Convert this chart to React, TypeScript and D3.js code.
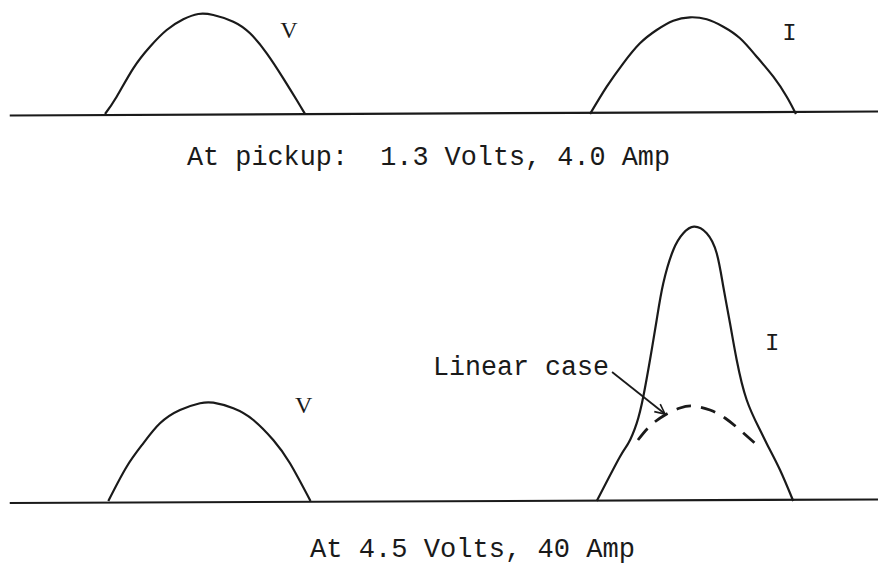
import React from "react";
import * as d3 from "d3";

// Time axis (arbitrary units 0..100 across the sheet), amplitude in relative units.
type Pt = [number, number];

// Top panel: at pickup
const topV: Pt[] = [
  [11.15, 0], [12.49, 17.3], [14.4, 45.7], [16.32, 67.3], [18.24, 84], [20.15, 94.7],
  [21.87, 100], [23.6, 99], [25.9, 92.3], [27.82, 80.7], [29.74, 60.7], [31.64, 35.7],
  [33.18, 14], [34.14, 0],
];
const topI: Pt[] = [
  [66.9, 0], [68.82, 27.3], [70.72, 50.7], [72.64, 70.7], [74.56, 84], [76.47, 93.3],
  [78.39, 96.7], [80.31, 94.7], [82.22, 87.3], [84.14, 75.7], [86.06, 57.3], [87.97, 37.3],
  [89.51, 17.3], [90.57, 0],
];

// Bottom panel: at 4.5 V, 40 A
const botV: Pt[] = [
  [11.53, 0], [13.64, 34.3], [15.55, 57.7], [17.47, 77.7], [19.77, 91], [22.07, 97.7],
  [23.6, 98.3], [25.9, 92.7], [28.2, 81], [30.49, 61], [32.41, 37.7], [34.77, 0],
];
const botI: Pt[] = [
  [67.67, 0], [70.34, 44.3], [71.3, 57.7], [72.26, 77.7], [73.02, 104.3], [73.79, 141],
  [74.56, 181], [75.32, 217.7], [76.47, 251], [77.62, 267.7], [78.85, 274.3], [80.31, 267.7],
  [81.46, 247.7], [82.22, 214.3], [82.99, 177.7], [83.76, 141], [84.91, 101], [86.44, 71],
  [87.39, 54.3], [88.74, 31], [90.26, 0],
];
const botLinear: Pt[] = [
  [72.41, 61], [73.79, 75], [75.52, 86], [77.24, 93], [78.74, 95], [80.69, 91],
  [82.41, 83], [84.14, 71], [86.09, 56],
];
const arrowPts: Pt[] = [[69.43, 129], [75.52, 87]];

const captions = ["At pickup:  1.3 Volts, 4.0 Amp", "At 4.5 Volts, 40 Amp"];
const curveLabels = ["V", "I", "V", "I"];
const annotation = "Linear case";

const W = 878;
const H = 566;

export default function App() {
  const x = d3.scaleLinear().domain([0, 100]).range([8, 878]);
  const yTop = d3.scaleLinear().domain([0, 100]).range([114, 14]);
  const yBot = d3.scaleLinear().domain([0, 100]).range([501, 401]);

  const lineTop = d3.line<Pt>().x((d) => x(d[0])).y((d) => yTop(d[1])).curve(d3.curveNatural);
  const lineBot = d3.line<Pt>().x((d) => x(d[0])).y((d) => yBot(d[1])).curve(d3.curveNatural);

  const ink = "#1a1a1a";
  const sw = 2.2;

  // arrow geometry
  const ax0 = x(arrowPts[0][0]);
  const ay0 = yBot(arrowPts[0][1]);
  const ax1 = x(arrowPts[1][0]);
  const ay1 = yBot(arrowPts[1][1]);
  const ang = Math.atan2(ay1 - ay0, ax1 - ax0);
  const headLen = 11;
  const headAng = 0.45;
  const h1: Pt = [ax1 - headLen * Math.cos(ang - headAng), ay1 - headLen * Math.sin(ang - headAng)];
  const h2: Pt = [ax1 - headLen * Math.cos(ang + headAng), ay1 - headLen * Math.sin(ang + headAng)];

  const mono = "'Liberation Mono', 'DejaVu Sans Mono', monospace";
  const serif = "'Liberation Serif', 'DejaVu Serif', serif";

  return (
    <svg
      width={W}
      height={H}
      viewBox={`0 0 ${W} ${H}`}
      style={{ position: "absolute", left: 0, top: 0, background: "#fff" }}
    >
      <rect x={0} y={0} width={W} height={H} fill="#fff" />
      {/* baselines */}
      <line x1={x(0.2)} x2={x(100)} y1={yTop(-1.5)} y2={yTop(2.5)} stroke={ink} strokeWidth={2.2} />
      <line x1={x(0.2)} x2={x(100)} y1={yBot(-2)} y2={yBot(1.5)} stroke={ink} strokeWidth={2.2} />

      {/* top panel curves */}
      <path d={lineTop(topV) ?? ""} fill="none" stroke={ink} strokeWidth={sw} />
      <path d={lineTop(topI) ?? ""} fill="none" stroke={ink} strokeWidth={sw} />

      {/* bottom panel curves */}
      <path d={lineBot(botV) ?? ""} fill="none" stroke={ink} strokeWidth={sw} />
      <path d={lineBot(botI) ?? ""} fill="none" stroke={ink} strokeWidth={sw} />
      <path d={lineBot(botLinear) ?? ""} fill="none" stroke={ink} strokeWidth={2.8} strokeDasharray="15 10" />

      {/* arrow */}
      <line x1={ax0} y1={ay0} x2={ax1} y2={ay1} stroke={ink} strokeWidth={1.8} />
      <polyline points={`${h1[0]},${h1[1]} ${ax1},${ay1} ${h2[0]},${h2[1]}`} fill="none" stroke={ink} strokeWidth={1.6} />

      {/* curve labels */}
      <text x={x(31.3)} y={yTop(76)} fontFamily={serif} fontSize={24} fill={ink}>{curveLabels[0]}</text>
      <text x={x(89.0)} y={yTop(74)} fontFamily={mono} fontSize={24} fill={ink}>{curveLabels[1]}</text>
      <text x={x(33)} y={yBot(88)} fontFamily={serif} fontSize={24} fill={ink}>{curveLabels[2]}</text>
      <text x={x(87.0)} y={yBot(151)} fontFamily={mono} fontSize={24} fill={ink}>{curveLabels[3]}</text>

      {/* annotation */}
      <text x={433} y={375} fontFamily={mono} fontSize={27} fill={ink} textLength={176} lengthAdjust="spacingAndGlyphs">
        {annotation}
      </text>

      {/* captions */}
      <text x={187} y={165} fontFamily={mono} fontSize={27} fill={ink} xmlSpace="preserve" style={{ whiteSpace: "pre" }} textLength={483} lengthAdjust="spacingAndGlyphs">
        {captions[0]}
      </text>
      <text x={310} y={557} fontFamily={mono} fontSize={27} fill={ink} textLength={325} lengthAdjust="spacingAndGlyphs">
        {captions[1]}
      </text>
    </svg>
  );
}
